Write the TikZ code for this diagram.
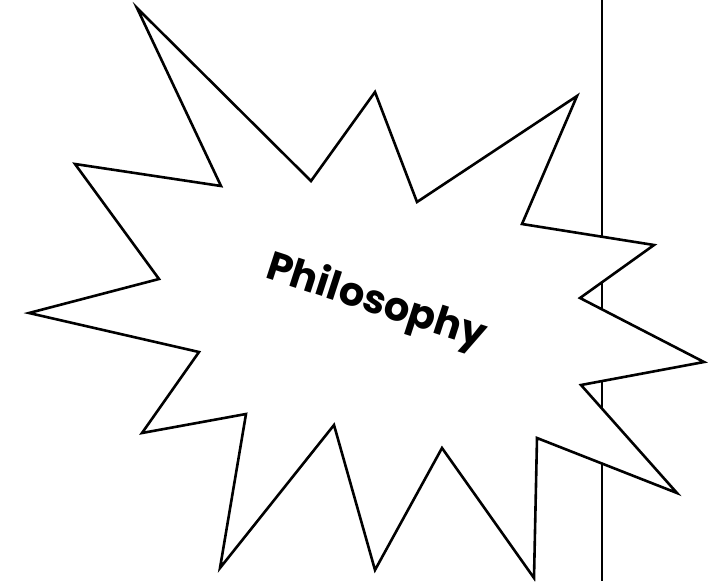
\documentclass[tikz,border=0pt]{standalone}
\usepackage{fontspec}
\usepackage{xcolor}
\usepackage{tikz}
\newfontfamily\burstfont{Poppins}
\definecolor{ink}{HTML}{000000}

\begin{document}
\begin{tikzpicture}[x=1pt,y=-1pt]
        \useasboundingbox (0,0) rectangle (708,581);

        % divider behind the burst
        \coordinate (divtop) at (602,0);
        \coordinate (divbot) at (602,581);
        \draw[line width=2.8pt,ink] (divtop) -- (divbot);

        % burst
        \draw[line width=2.6pt,ink,fill=white,line join=miter]
        (137,8) -- (311,181) -- (375,92) -- (417,202) -- (577,96) -- (522,224)
        -- (654,245) -- (580,298) -- (704,362) -- (581,385) -- (677,493)
        -- (537,438) -- (534,578) -- (442,448) -- (375,570) -- (334,425)
        -- (220,568) -- (246,414) -- (142,433) -- (199,352) -- (29,313)
        -- (159,279) -- (75,164) -- (221,186) -- cycle;

        % label
        \node[font=\burstfont\bfseries\fontsize{40}{45}\selectfont,text=ink,rotate=-18] (philo) at (376,303) {Philosophy};
    \end{tikzpicture}
\end{document}
